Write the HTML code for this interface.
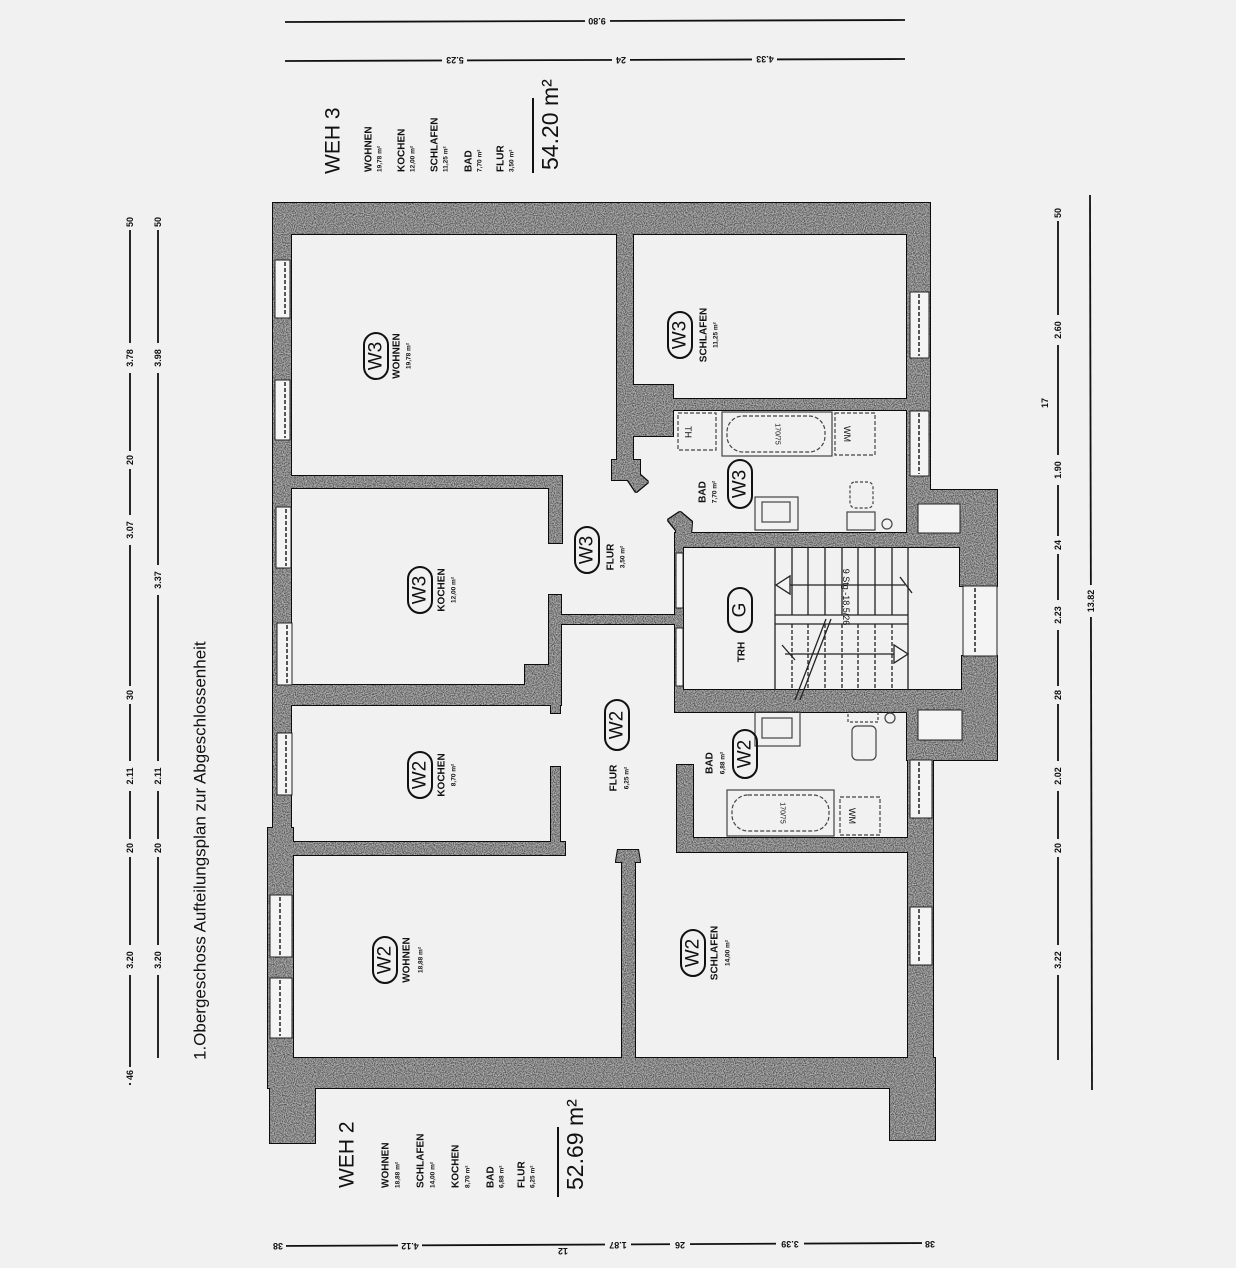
<!DOCTYPE html>
<html><head><meta charset="utf-8"><style>
html,body{margin:0;padding:0;background:#f1f1f1;}
svg{display:block;}
text{font-family:"Liberation Sans",sans-serif;fill:#111;}
</style></head><body>
<svg width="1236" height="1268" viewBox="0 0 1236 1268" xmlns="http://www.w3.org/2000/svg">
<defs>
<filter id="grain" x="-1%" y="-1%" width="102%" height="102%">
<feMorphology in="SourceAlpha" operator="dilate" radius="1.2" result="dil"/>
<feFlood flood-color="#111" result="blk"/>
<feComposite in="blk" in2="dil" operator="in" result="outline"/>
<feTurbulence type="fractalNoise" baseFrequency="0.9" numOctaves="1" seed="3" result="n"/>
<feColorMatrix in="n" type="matrix" values="0 0 0 0 0.75  0 0 0 0 0.75  0 0 0 0 0.75  0 0 0 1.4 -0.45" result="c"/>
<feComposite in="c" in2="SourceGraphic" operator="in" result="d"/>
<feMerge><feMergeNode in="outline"/><feMergeNode in="SourceGraphic"/><feMergeNode in="d"/></feMerge>
</filter>
</defs>
<rect width="1236" height="1268" fill="#f1f1f1"/>

<!-- WALLS -->
<g fill="#555" filter="url(#grain)">
<rect x="273" y="203" width="657" height="31"/>
<rect x="273" y="203" width="18" height="627"/>
<rect x="268" y="828" width="25" height="232"/>
<rect x="270" y="1058" width="45" height="85"/>
<rect x="268" y="1058" width="667" height="30"/>
<rect x="890" y="1058" width="45" height="82"/>
<rect x="290" y="476" width="272" height="12"/>
<rect x="549" y="476" width="13" height="67"/>
<rect x="549" y="595" width="12" height="110"/>
<rect x="525" y="665" width="36" height="40"/>
<rect x="278" y="685" width="283" height="20"/>
<rect x="551" y="685" width="9" height="28"/>
<rect x="551" y="767" width="9" height="88"/>
<rect x="268" y="842" width="297" height="13"/>
<rect x="617" y="233" width="16" height="235"/>
<rect x="617" y="385" width="56" height="51"/>
<polygon points="612,460 640,460 640,475 648,482 636,492 628,480 612,480"/>
<rect x="633" y="399" width="275" height="11"/>
<rect x="907" y="203" width="23" height="290"/>
<rect x="907" y="490" width="90" height="14"/>
<rect x="907" y="490" width="11" height="57"/>
<rect x="960" y="490" width="37" height="96"/>
<rect x="962" y="656" width="35" height="104"/>
<rect x="907" y="690" width="90" height="20"/>
<rect x="907" y="740" width="90" height="20"/>
<rect x="907" y="690" width="11" height="70"/>
<rect x="908" y="760" width="25" height="300"/>
<rect x="675" y="533" width="287" height="14"/>
<polygon points="668,520 680,512 692,522 690,547 676,547 676,530"/>
<rect x="675" y="690" width="287" height="22"/>
<rect x="675" y="547" width="8" height="143"/>
<rect x="555" y="615" width="128" height="9"/>
<rect x="677" y="765" width="16" height="87"/>
<rect x="677" y="838" width="256" height="14"/>
<polygon points="622,1058 622,862 616,862 618,850 638,850 640,862 635,862 635,1058"/>
</g>

<!-- windows -->
<g fill="#f4f4f4" stroke="#222" stroke-width="1">
<rect x="275" y="260" width="15" height="58"/>
<rect x="275" y="380" width="15" height="60"/>
<rect x="276" y="507" width="15" height="61"/>
<rect x="277" y="623" width="15" height="62"/>
<rect x="277" y="733" width="15" height="62"/>
<rect x="270" y="895" width="22" height="62"/>
<rect x="270" y="978" width="22" height="60"/>
<rect x="910" y="292" width="19" height="66"/>
<rect x="910" y="411" width="19" height="65"/>
<rect x="963" y="586" width="34" height="70"/>
<rect x="910" y="760" width="22" height="58"/>
<rect x="910" y="907" width="22" height="58"/>
<rect x="918" y="504" width="42" height="29"/>
<rect x="918" y="710" width="44" height="30"/>
<rect x="676" y="553" width="7" height="55"/>
<rect x="676" y="628" width="7" height="58"/>
</g>
<g stroke="#222" stroke-width="1.5" stroke-dasharray="4,2" fill="none">
<line x1="285" y1="262" x2="285" y2="316"/><line x1="285" y1="382" x2="285" y2="438"/>
<line x1="286" y1="509" x2="286" y2="566"/><line x1="287" y1="625" x2="287" y2="683"/>
<line x1="286" y1="735" x2="286" y2="793"/><line x1="280" y1="897" x2="280" y2="955"/>
<line x1="280" y1="980" x2="280" y2="1036"/><line x1="919" y1="294" x2="919" y2="356"/>
<line x1="919" y1="413" x2="919" y2="474"/><line x1="975" y1="588" x2="975" y2="654"/>
<line x1="919" y1="762" x2="919" y2="816"/><line x1="919" y1="909" x2="919" y2="963"/>
</g>

<!-- stairs -->
<g stroke="#222" stroke-width="1.3" fill="none">
<line x1="775" y1="547" x2="775" y2="690"/>
<line x1="792" y1="547" x2="792" y2="615"/><line x1="808" y1="547" x2="808" y2="615"/>
<line x1="825" y1="547" x2="825" y2="615"/><line x1="842" y1="547" x2="842" y2="615"/>
<line x1="858" y1="547" x2="858" y2="615"/><line x1="875" y1="547" x2="875" y2="615"/>
<line x1="892" y1="547" x2="892" y2="615"/><line x1="908" y1="547" x2="908" y2="690"/>
<line x1="775" y1="615" x2="908" y2="615"/><line x1="775" y1="624" x2="908" y2="624"/>
<line x1="778" y1="585" x2="905" y2="585"/>
<polygon points="776,585 790,576 790,594" fill="#f4f4f4"/>
<line x1="900" y1="577" x2="912" y2="593"/>
<line x1="785" y1="654" x2="905" y2="654"/>
<polygon points="908,654 894,645 894,663" fill="#f4f4f4"/>
<line x1="782" y1="645" x2="795" y2="660"/>
<line x1="826" y1="619" x2="795" y2="700"/><line x1="831" y1="619" x2="800" y2="700"/>
</g>
<g stroke="#222" stroke-width="1.3" stroke-dasharray="4,2" fill="none">
<line x1="792" y1="624" x2="792" y2="690"/><line x1="808" y1="624" x2="808" y2="690"/>
<line x1="825" y1="624" x2="825" y2="690"/><line x1="842" y1="624" x2="842" y2="690"/>
<line x1="858" y1="624" x2="858" y2="690"/><line x1="875" y1="624" x2="875" y2="690"/>
<line x1="892" y1="624" x2="892" y2="690"/>
</g>
<text transform="translate(846,597) rotate(90)" font-size="9" text-anchor="middle" dominant-baseline="central">9 Stg.-18,5/26</text>

<!-- bath fixtures -->
<g stroke="#444" stroke-width="1.2" fill="none">
<rect x="722" y="412" width="110" height="44"/>
<rect x="727" y="416" width="98" height="36" rx="16" stroke-dasharray="4,2"/>
<rect x="678" y="413" width="38" height="37" stroke-dasharray="4,2"/>
<rect x="835" y="413" width="40" height="42" stroke-dasharray="4,2"/>
<rect x="755" y="497" width="43" height="33"/><rect x="762" y="502" width="28" height="20"/>
<rect x="850" y="482" width="23" height="26" rx="5" stroke-dasharray="3,2"/>
<rect x="847" y="512" width="28" height="18"/>
<circle cx="887" cy="524" r="5"/>
<rect x="727" y="790" width="107" height="46"/>
<rect x="732" y="795" width="97" height="36" rx="16" stroke-dasharray="4,2"/>
<rect x="840" y="797" width="40" height="38" stroke-dasharray="4,2"/>
<rect x="755" y="712" width="45" height="34"/><rect x="762" y="718" width="30" height="20"/>
<rect x="848" y="712" width="30" height="10" stroke-dasharray="3,2"/>
<rect x="852" y="726" width="24" height="34" rx="5"/>
<circle cx="890" cy="718" r="5"/>
</g>
<g font-size="9" fill="#333">
<text transform="translate(688,432) rotate(90)" text-anchor="middle" dominant-baseline="central">TH</text>
<text transform="translate(847,434) rotate(90)" text-anchor="middle" dominant-baseline="central">WM</text>
<text transform="translate(852,816) rotate(90)" text-anchor="middle" dominant-baseline="central">WM</text>
<text transform="translate(777,434) rotate(90)" text-anchor="middle" dominant-baseline="central" font-size="7">170/75</text>
<text transform="translate(782,813) rotate(90)" text-anchor="middle" dominant-baseline="central" font-size="7">170/75</text>
</g>

<!-- ovals -->
<g fill="none" stroke="#111" stroke-width="2">
<rect x="364" y="333" width="24" height="46" rx="12"/>
<rect x="408" y="567" width="24" height="46" rx="12"/>
<rect x="575" y="527" width="24" height="46" rx="12"/>
<rect x="668" y="312" width="24" height="46" rx="12"/>
<rect x="728" y="460" width="24" height="48" rx="12"/>
<rect x="728" y="588" width="24" height="44" rx="12"/>
<rect x="408" y="752" width="24" height="46" rx="12"/>
<rect x="605" y="700" width="24" height="50" rx="12"/>
<rect x="733" y="730" width="24" height="48" rx="12"/>
<rect x="373" y="937" width="24" height="46" rx="12"/>
<rect x="681" y="930" width="24" height="46" rx="12"/>
</g>
<g font-size="19" text-anchor="middle" dominant-baseline="central">
<text transform="translate(376,356) rotate(-90)">W3</text>
<text transform="translate(420,590) rotate(-90)">W3</text>
<text transform="translate(587,550) rotate(-90)">W3</text>
<text transform="translate(680,335) rotate(-90)">W3</text>
<text transform="translate(740,484) rotate(-90)">W3</text>
<text transform="translate(740,610) rotate(-90)">G</text>
<text transform="translate(420,775) rotate(-90)">W2</text>
<text transform="translate(617,725) rotate(-90)">W2</text>
<text transform="translate(745,754) rotate(-90)">W2</text>
<text transform="translate(385,960) rotate(-90)">W2</text>
<text transform="translate(693,953) rotate(-90)">W2</text>
</g>
<g font-size="10" font-weight="bold" text-anchor="middle" dominant-baseline="central">
<text transform="translate(397,356) rotate(-90)">WOHNEN</text>
<text transform="translate(442,590) rotate(-90)">KOCHEN</text>
<text transform="translate(611,557) rotate(-90)">FLUR</text>
<text transform="translate(704,335) rotate(-90)">SCHLAFEN</text>
<text transform="translate(703,492) rotate(-90)">BAD</text>
<text transform="translate(742,652) rotate(-90)">TRH</text>
<text transform="translate(442,775) rotate(-90)">KOCHEN</text>
<text transform="translate(614,778) rotate(-90)">FLUR</text>
<text transform="translate(710,763) rotate(-90)">BAD</text>
<text transform="translate(407,960) rotate(-90)">WOHNEN</text>
<text transform="translate(715,953) rotate(-90)">SCHLAFEN</text>
</g>
<g font-size="6.5" font-weight="bold" text-anchor="middle" dominant-baseline="central">
<text transform="translate(409,356) rotate(-90)">19,78 m²</text>
<text transform="translate(454,590) rotate(-90)">12,00 m²</text>
<text transform="translate(623,557) rotate(-90)">3,50 m²</text>
<text transform="translate(716,335) rotate(-90)">11,25 m²</text>
<text transform="translate(715,492) rotate(-90)">7,70 m²</text>
<text transform="translate(454,775) rotate(-90)">8,70 m²</text>
<text transform="translate(627,778) rotate(-90)">6,25 m²</text>
<text transform="translate(723,763) rotate(-90)">6,88 m²</text>
<text transform="translate(421,960) rotate(-90)">18,88 m²</text>
<text transform="translate(728,953) rotate(-90)">14,00 m²</text>
</g>

<g dominant-baseline="central">
<text transform="translate(333,174) rotate(-90)" font-size="21">WEH 3</text>
<g font-size="10" font-weight="bold">
<text transform="translate(369,172) rotate(-90)">WOHNEN</text>
<text transform="translate(402,172) rotate(-90)">KOCHEN</text>
<text transform="translate(435,172) rotate(-90)">SCHLAFEN</text>
<text transform="translate(469,172) rotate(-90)">BAD</text>
<text transform="translate(501,172) rotate(-90)">FLUR</text>
</g>
<g font-size="6.5" font-weight="bold">
<text transform="translate(380,172) rotate(-90)">19,78 m²</text>
<text transform="translate(413,172) rotate(-90)">12,00 m²</text>
<text transform="translate(446,172) rotate(-90)">11,25 m²</text>
<text transform="translate(480,172) rotate(-90)">7,70 m²</text>
<text transform="translate(512,172) rotate(-90)">3,50 m²</text>
</g>
<text transform="translate(550,170) rotate(-90)" font-size="23">54.20 m²</text>
<text transform="translate(347,1188) rotate(-90)" font-size="21">WEH 2</text>
<g font-size="10" font-weight="bold">
<text transform="translate(386,1188) rotate(-90)">WOHNEN</text>
<text transform="translate(421,1188) rotate(-90)">SCHLAFEN</text>
<text transform="translate(456,1188) rotate(-90)">KOCHEN</text>
<text transform="translate(491,1188) rotate(-90)">BAD</text>
<text transform="translate(522,1188) rotate(-90)">FLUR</text>
</g>
<g font-size="6.5" font-weight="bold">
<text transform="translate(398,1188) rotate(-90)">18,88 m²</text>
<text transform="translate(433,1188) rotate(-90)">14,00 m²</text>
<text transform="translate(468,1188) rotate(-90)">8,70 m²</text>
<text transform="translate(502,1188) rotate(-90)">6,88 m²</text>
<text transform="translate(533,1188) rotate(-90)">6,25 m²</text>
</g>
<text transform="translate(575,1190) rotate(-90)" font-size="23">52.69 m²</text>
<text transform="translate(200,1060) rotate(-90)" font-size="17">1.Obergeschoss Aufteilungsplan zur Abgeschlossenheit</text>
</g>
<g stroke="#111" stroke-width="2">
<line x1="533" y1="98" x2="533" y2="173"/>
<line x1="558" y1="1127" x2="558" y2="1197"/>
</g>

<g stroke="#111" stroke-width="1.8">
<line x1="285" y1="22" x2="905" y2="20"/>
<line x1="285" y1="61" x2="905" y2="59"/>
<line x1="270" y1="1246" x2="935" y2="1243"/>
<line x1="130" y1="220" x2="130" y2="1085"/>
<line x1="158" y1="220" x2="158" y2="1058"/>
<line x1="1058" y1="205" x2="1058" y2="1060"/>
<line x1="1090" y1="195" x2="1092" y2="1090"/>
</g>
<g font-size="9" font-weight="bold" text-anchor="middle" dominant-baseline="central">
<g fill="#f1f1f1"><rect x="585" y="15" width="25" height="12"/><rect x="442" y="54" width="25" height="12"/><rect x="612" y="54" width="18" height="12"/><rect x="752" y="53" width="25" height="12"/></g>
<text transform="translate(597,21) rotate(180)">9.80</text>
<text transform="translate(455,60) rotate(180)">5.23</text>
<text transform="translate(621,60) rotate(180)">24</text>
<text transform="translate(765,59) rotate(180)">4.33</text>
<g fill="#f1f1f1"><rect x="270" y="1239" width="16" height="14"/><rect x="398" y="1239" width="24" height="14"/><rect x="605" y="1238" width="26" height="14"/><rect x="670" y="1238" width="20" height="14"/><rect x="776" y="1237" width="28" height="14"/><rect x="922" y="1237" width="16" height="14"/></g>
<text transform="translate(278,1246) rotate(180)">38</text>
<text transform="translate(410,1246) rotate(180)">4.12</text>
<text transform="translate(563,1251) rotate(180)">12</text>
<text transform="translate(618,1245) rotate(180)">1.87</text>
<text transform="translate(680,1245) rotate(180)">26</text>
<text transform="translate(790,1244) rotate(180)">3.39</text>
<text transform="translate(930,1244) rotate(180)">38</text>
<g fill="#f1f1f1">
<rect x="124" y="214" width="12" height="16"/><rect x="124" y="343" width="12" height="30"/><rect x="124" y="451" width="12" height="18"/><rect x="124" y="515" width="12" height="30"/><rect x="124" y="686" width="12" height="18"/><rect x="124" y="761" width="12" height="30"/><rect x="124" y="839" width="12" height="18"/><rect x="124" y="945" width="12" height="30"/><rect x="124" y="1067" width="12" height="16"/>
<rect x="152" y="214" width="12" height="16"/><rect x="152" y="343" width="12" height="30"/><rect x="152" y="565" width="12" height="30"/><rect x="152" y="761" width="12" height="30"/><rect x="152" y="839" width="12" height="18"/><rect x="152" y="945" width="12" height="30"/>
<rect x="1052" y="205" width="12" height="16"/><rect x="1052" y="315" width="12" height="30"/><rect x="1052" y="455" width="12" height="30"/><rect x="1052" y="536" width="12" height="18"/><rect x="1052" y="600" width="12" height="30"/><rect x="1052" y="686" width="12" height="18"/><rect x="1052" y="761" width="12" height="30"/><rect x="1052" y="839" width="12" height="18"/><rect x="1052" y="945" width="12" height="30"/><rect x="1084" y="585" width="14" height="32"/>
</g>
<text transform="translate(130,222) rotate(-90)">50</text>
<text transform="translate(130,358) rotate(-90)">3.78</text>
<text transform="translate(130,460) rotate(-90)">20</text>
<text transform="translate(130,530) rotate(-90)">3.07</text>
<text transform="translate(130,695) rotate(-90)">30</text>
<text transform="translate(130,776) rotate(-90)">2.11</text>
<text transform="translate(130,848) rotate(-90)">20</text>
<text transform="translate(130,960) rotate(-90)">3.20</text>
<text transform="translate(130,1075) rotate(-90)">46</text>
<text transform="translate(158,222) rotate(-90)">50</text>
<text transform="translate(158,358) rotate(-90)">3.98</text>
<text transform="translate(158,580) rotate(-90)">3.37</text>
<text transform="translate(158,776) rotate(-90)">2.11</text>
<text transform="translate(158,848) rotate(-90)">20</text>
<text transform="translate(158,960) rotate(-90)">3.20</text>
<text transform="translate(1058,213) rotate(-90)">50</text>
<text transform="translate(1058,330) rotate(-90)">2.60</text>
<text transform="translate(1045,403) rotate(-90)">17</text>
<text transform="translate(1058,470) rotate(-90)">1.90</text>
<text transform="translate(1058,545) rotate(-90)">24</text>
<text transform="translate(1058,615) rotate(-90)">2.23</text>
<text transform="translate(1058,695) rotate(-90)">28</text>
<text transform="translate(1058,776) rotate(-90)">2.02</text>
<text transform="translate(1058,848) rotate(-90)">20</text>
<text transform="translate(1058,960) rotate(-90)">3.22</text>
<text transform="translate(1091,601) rotate(-90)">13.82</text>
</g>
</svg>
</body></html>
